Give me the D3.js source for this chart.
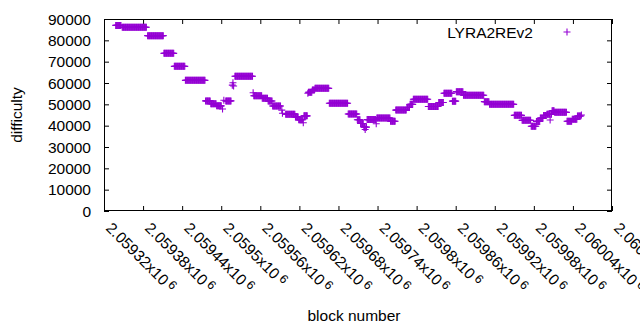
<!DOCTYPE html>
<html><head><meta charset="utf-8">
<script src="https://cdn.jsdelivr.net/npm/d3@7/dist/d3.min.js"></script>
<style>
body{margin:0;background:#fff}
svg text{font-family:"Liberation Sans",Arial,sans-serif;fill:#000}
</style>
</head><body>
<svg id="chart" width="640" height="330"></svg>
<script>
// ---- data ----
const seriesName = "LYRA2REv2";
// runs of consecutive blocks sharing the same difficulty
const runStart = [2059338,2059348,2059387,2059412,2059428,2059445,2059476,2059484,2059493,2059502,2059504,2059507,2059517,2059518,2059519,2059521,2059549,2059550,2059563,2059572,2059579,2059593,2059594,2059599,2059614,2059619,2059626,2059627,2059633,2059634,2059640,2059644,2059666,2059695,2059709,2059714,2059719,2059721,2059722,2059724,2059738,2059739,2059760,2059768,2059785,2059790,2059795,2059818,2059834,2059842,2059855,2059861,2059872,2059904,2059912,2059950,2059962,2059976,2059984,2059990,2059995,2060000,2060005,2060006,2060008,2060012,2060031,2060039,2060047,2060053];
const runEnd   = [2059346,2059385,2059411,2059427,2059444,2059475,2059483,2059492,2059500,2059502,2059504,2059515,2059517,2059518,2059519,2059548,2059549,2059562,2059571,2059578,2059591,2059593,2059594,2059613,2059618,2059625,2059626,2059632,2059633,2059639,2059643,2059665,2059694,2059708,2059713,2059718,2059720,2059721,2059723,2059737,2059738,2059759,2059767,2059784,2059789,2059794,2059817,2059833,2059841,2059854,2059860,2059871,2059903,2059911,2059949,2059961,2059975,2059983,2059989,2059994,2059999,2060004,2060005,2060007,2060011,2060030,2060038,2060046,2060052,2060053];
const runValue = [87000,86100,82200,73900,67800,61250,51600,50300,49300,47800,51900,51600,59000,60100,58600,63140,55450,54000,52800,51560,49200,47300,45800,45400,44060,42800,41400,44600,55200,55640,56700,57500,50500,45470,42800,41000,39300,38200,39300,42850,40900,43600,42050,47300,48500,50000,52350,48950,50860,55170,51500,55940,54250,51250,50000,44840,42500,39700,42000,43600,44800,45300,42650,45300,47000,46250,42050,42980,44500,45000];

const xTickValues = [2059320,2059380,2059440,2059500,2059560,2059620,2059680,2059740,2059800,2059860,2059920,2059980,2060040,2060100];
const xTickMantissa = ["2.05932","2.05938","2.05944","2.0595","2.05956","2.05962","2.05968","2.05974","2.0598","2.05986","2.05992","2.05998","2.06004","2.0601"];
const xTickExponent = "6";
const yTickValues = [0,10000,20000,30000,40000,50000,60000,70000,80000,90000];

// ---- layout ----
const L = 104, R = 612, T = 19, B = 211;
const color = "#9400d3";
const svg = d3.select("#chart");
svg.append("rect").attr("width",640).attr("height",330).attr("fill","#fff");

const x = d3.scaleLinear().domain([2059320, 2060100]).range([L, R]);
const y = d3.scaleLinear().domain([0, 90000]).range([B, T]);

const points = [];
runStart.forEach((s, i) => {
  for (let b = s; b <= runEnd[i]; b++) points.push({block: b, value: runValue[i]});
});

// axes with inward ticks (and mirrored ticks)
const fs = 15.5;
const gx = svg.append("g").attr("transform", `translate(0,${B})`)
  .call(d3.axisBottom(x).tickValues(xTickValues).tickSize(-5).tickFormat(""));
const gxt = svg.append("g").attr("transform", `translate(0,${T})`)
  .call(d3.axisTop(x).tickValues(xTickValues).tickSize(-5).tickFormat(""));
const gy = svg.append("g").attr("transform", `translate(${L},0)`)
  .call(d3.axisLeft(y).tickValues(yTickValues).tickSize(-5).tickFormat(""));
const gyr = svg.append("g").attr("transform", `translate(${R},0)`)
  .call(d3.axisRight(y).tickValues(yTickValues).tickSize(-5).tickFormat(""));
[gx,gxt,gy,gyr].forEach(g => { g.select(".domain").remove(); g.selectAll("line").attr("stroke","#000").attr("stroke-width",1); });

// y tick labels
svg.append("g").selectAll("text").data(yTickValues).join("text")
  .attr("x", L - 13).attr("y", d => y(d)).attr("dy","0.36em")
  .attr("text-anchor","end").attr("font-size", fs).text(d => d);

// x tick labels rotated
const xl = svg.append("g").selectAll("text").data(xTickValues).join("text")
  .attr("transform", d => `translate(${x(d)+1},${B+18}) rotate(45)`)
  .attr("font-size", fs);
xl.append("tspan").text((d,i) => xTickMantissa[i] + "x10");
xl.append("tspan").attr("dx", 3).attr("dy", -4).attr("font-size", fs*0.8).text(xTickExponent);

// border
svg.append("rect").attr("x", L+0.5).attr("y", T+0.5).attr("width", R-L-1).attr("height", B-T-1)
  .attr("fill","none").attr("stroke","#000").attr("stroke-width",1);

// points as "+"
const h = 3.5;
svg.append("g").attr("stroke", color).attr("stroke-width", 1.1).attr("fill","none")
  .selectAll("path").data(points).join("path")
  .attr("d", d => { const px = x(d.block), py = y(d.value);
    return `M${px-h},${py}H${px+h}M${px},${py-h}V${py+h}`; });

// axis titles
svg.append("text").attr("transform", `translate(22,${(T+B)/2}) rotate(-90)`)
  .attr("text-anchor","middle").attr("font-size", fs).text("difficulty");
svg.append("text").attr("x", (L+R)/2 - 4).attr("y", 321)
  .attr("text-anchor","middle").attr("font-size", fs).text("block number");

// legend
svg.append("text").attr("x", 533).attr("y", 37.5).attr("text-anchor","end")
  .attr("font-size", fs).text(seriesName);
svg.append("path").attr("stroke", color).attr("stroke-width",1.1)
  .attr("d", `M${567-h},32H${567+h}M567,${32-h}V${32+h}`);
</script>
</body></html>
